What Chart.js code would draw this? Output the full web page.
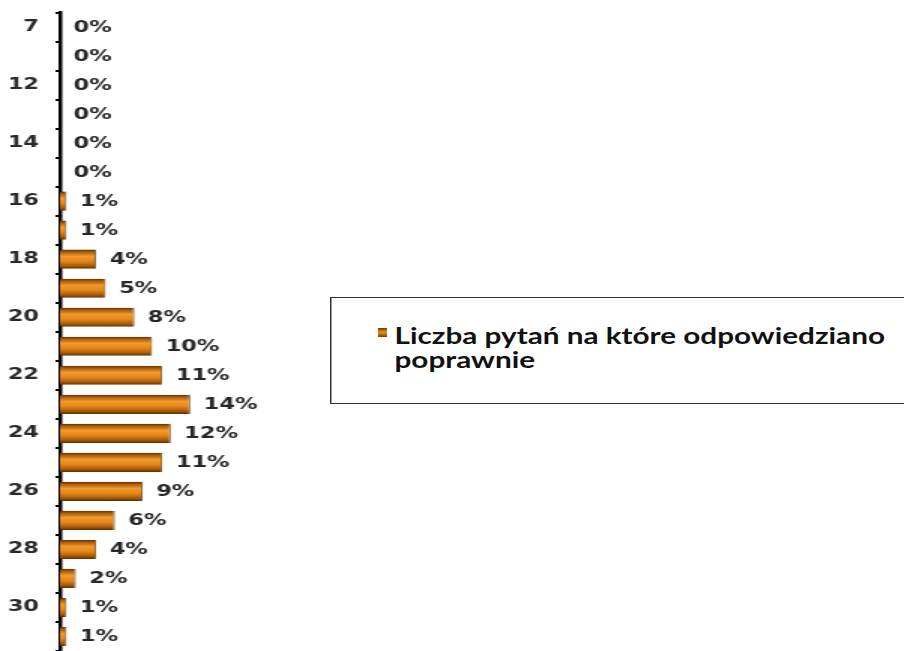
<!DOCTYPE html>
<html>
<head>
<meta charset="utf-8">
<script src="https://cdn.jsdelivr.net/npm/chart.js@4/dist/chart.umd.min.js"></script>
<style>
  html, body { margin: 0; padding: 0; background: #fff; overflow: hidden; }
  #stage {
    position: absolute; left: 0; top: 0;
    width: 603px; height: 651px;
    transform: scaleX(1.5); transform-origin: 0 0;
  }
  #chartBox { position: absolute; left: 0; top: 0; width: 603px; height: 651px; }
  #legend {
    position: absolute; left: 220px; top: 297px;
    width: 400px; height: 107px;
    border: 1px solid #333; box-sizing: border-box; background: #fff;
  }
  #legend .mark {
    position: absolute; left: 31px; top: 30px; width: 6px; height: 9px;
    background: linear-gradient(to bottom, #6b3a00, #e8901e 45%, #d07a14 65%, #6b3a00);
  }
  #legend .txt {
    position: absolute; left: 42px; top: 26px;
    font-family: Lato, "Open Sans", sans-serif; font-weight: bold;
    font-size: 22px; line-height: 24px; color: #111; white-space: nowrap;
    transform-origin: 0 0;
  }
</style>
</head>
<body>
<div id="stage">
  <div id="chartBox"><canvas id="c"></canvas></div>
  <div id="legend"><div class="mark"></div><div class="txt" id="legendText"></div></div>
</div>
<script>
// ---- data ----
const categories = ['7','11','12','13','14','15','16','17','18','19','20','21','22','23','24','25','26','27','28','29','30','31'];
const percentValues = [0,0,0,0,0,0,0.7,0.7,3.9,4.9,8.0,9.9,11.0,14.0,11.9,11.0,8.9,5.9,3.9,1.7,0.7,0.7];
const seriesName = ['Liczba pytań na które odpowiedziano', 'poprawnie'];

// legend text (fit first line to the reference width)
const lt = document.getElementById('legendText');
lt.innerHTML = '<span id="l1">' + seriesName[0] + '</span><br><span>' + seriesName[1] + '</span>';
const w1 = document.getElementById('l1').getBoundingClientRect().width / 1.5;
if (w1 > 0) lt.style.transform = 'scaleX(' + (327 / w1) + ')';

const BAR_FRACTION = 0.66;

function barGradient(ctx) {
  const chart = ctx.chart;
  const yScale = chart.scales && chart.scales.y;
  if (!chart.chartArea || !yScale || ctx.dataIndex === undefined) return '#e08a1e';
  const yc = yScale.getPixelForValue(ctx.dataIndex);
  const h = yScale.height / categories.length * BAR_FRACTION;
  const g = chart.ctx.createLinearGradient(0, yc - h / 2, 0, yc + h / 2);
  g.addColorStop(0, '#5a2f00');
  g.addColorStop(0.12, '#a85a0c');
  g.addColorStop(0.35, '#f29a2c');
  g.addColorStop(0.6, '#e5871a');
  g.addColorStop(0.85, '#a95a0a');
  g.addColorStop(1, '#5a2f00');
  return g;
}

const valueLabels = {
  id: 'valueLabels',
  afterDatasetsDraw(chart) {
    const ctx = chart.ctx;
    const meta = chart.getDatasetMeta(0);
    ctx.save();
    ctx.font = 'bold 15px "DejaVu Sans", Verdana, sans-serif';
    ctx.fillStyle = '#262626';
    ctx.textAlign = 'left';
    ctx.textBaseline = 'middle';
    meta.data.forEach((el, i) => {
      const v = chart.data.datasets[0].data[i];
      ctx.fillText(Math.round(v) + '%', el.x + 9, el.y + 1);
    });
    ctx.restore();
  }
};

new Chart(document.getElementById('c'), {
  type: 'bar',
  data: {
    labels: categories,
    datasets: [{
      label: seriesName.join(' '),
      data: percentValues,
      backgroundColor: barGradient,
      borderColor: '#6b3a00',
      borderWidth: { top: 0, bottom: 0, left: 0, right: 1 },
      borderSkipped: false,
      categoryPercentage: 1,
      barPercentage: BAR_FRACTION
    }]
  },
  options: {
    indexAxis: 'y',
    responsive: true,
    maintainAspectRatio: false,
    animation: false,
    layout: { padding: { top: 12.5, right: 377, bottom: 0, left: 0 } },
    plugins: { legend: { display: false }, tooltip: { enabled: false } },
    scales: {
      x: {
        display: false,
        min: 0,
        max: 30
      },
      y: {
        position: 'left',
        afterFit(scale) {
          scale.width = 40;
          scale.paddingTop = 0;
          scale.paddingBottom = 0;
        },
        grid: {
          offset: true,
          drawOnChartArea: false,
          drawTicks: true,
          tickLength: 3,
          color: '#000',
          lineWidth: 2
        },
        border: { display: true, color: '#000', width: 2.5 },
        ticks: {
          autoSkip: false,
          padding: 11,
          color: '#2a2a2a',
          font: { family: '"DejaVu Sans", Verdana, sans-serif', weight: 'bold', size: 15 },
          callback: function(value, index) {
            return index % 2 === 0 ? categories[index] : '';
          }
        }
      }
    }
  },
  plugins: [valueLabels]
});
</script>
</body>
</html>
